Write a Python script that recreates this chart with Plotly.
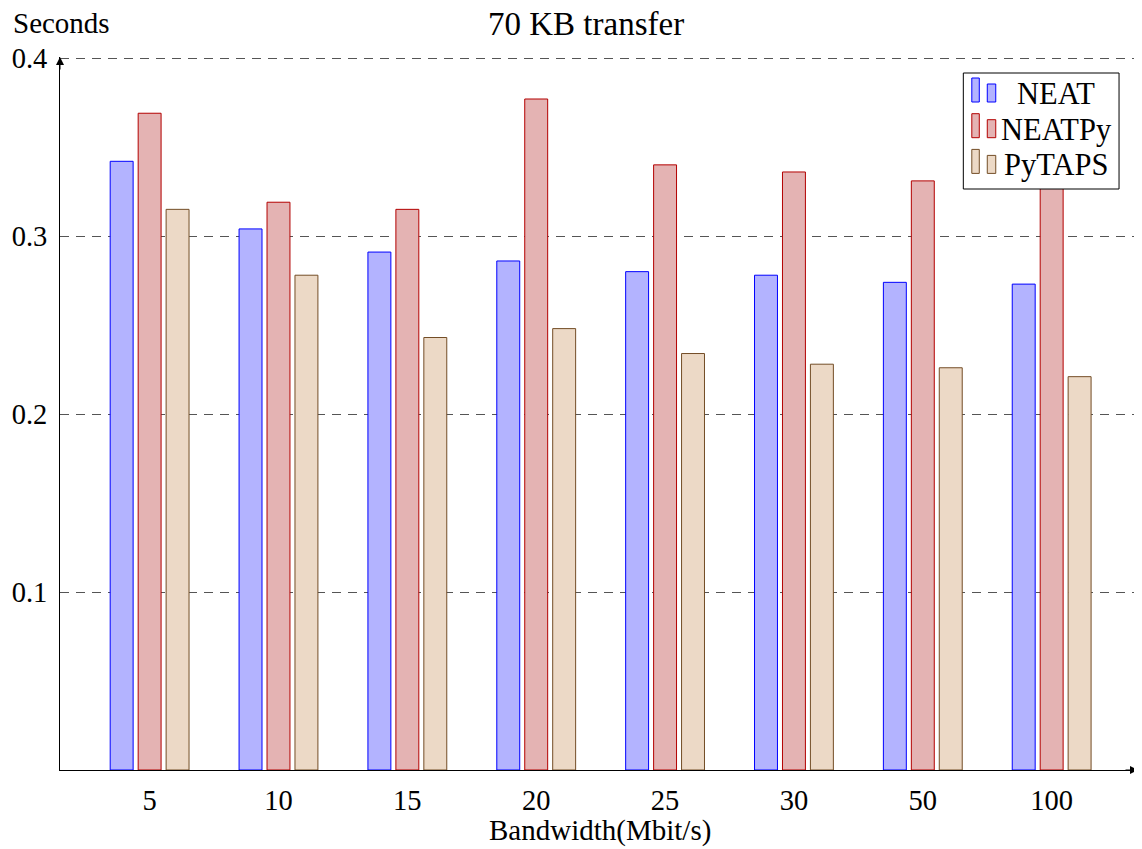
import plotly.graph_objects as go

categories = ["5", "10", "15", "20", "25", "30", "50", "100"]
neat = [0.342, 0.304, 0.291, 0.286, 0.280, 0.278, 0.274, 0.273]
neatpy = [0.369, 0.319, 0.315, 0.377, 0.340, 0.336, 0.331, 0.335]
pytaps = [0.315, 0.278, 0.243, 0.248, 0.234, 0.228, 0.226, 0.221]
y_ticks = [0.1, 0.2, 0.3, 0.4]

series = [
    ("NEAT", neat, "#b3b3ff", "#0000ff"),
    ("NEATPy", neatpy, "#e4b3b3", "#b30000"),
    ("PyTAPS", pytaps, "#ecd9c6", "#734d26"),
]

FONT = "Liberation Serif"
OFF = 8  # page body margin
W, H = 1142 - OFF, 849 - OFF
L, R, T, B = 58 - OFF, 4, 57 - OFF, 79
pw, ph = W - L - R, H - T - B

bw = 0.178
step = 0.2169
xs = list(range(len(categories)))

fig = go.Figure()
for k, (name, vals, fill, line) in enumerate(series):
    fig.add_trace(go.Bar(
        x=xs, y=vals, name=name,
        width=bw, offset=(k - 1) * step - bw / 2,
        marker=dict(color=fill, line=dict(color=line, width=1)),
        showlegend=False,
    ))


def px_x(p):
    """reference-image pixel x -> paper coordinate"""
    return (p - OFF - L) / pw


def px_y(p):
    """reference-image pixel y -> paper coordinate"""
    return (H - B - (p - OFF)) / ph


shapes = []
annotations = []

# custom legend (box, two-bar icons, labels)
lg_x0, lg_x1, lg_y0, lg_y1 = 963, 1119, 73, 189
shapes.append(dict(type="rect", xref="paper", yref="paper", layer="above",
                   x0=px_x(lg_x0), x1=px_x(lg_x1), y0=px_y(lg_y1), y1=px_y(lg_y0),
                   fillcolor="white", line=dict(color="black", width=1)))
row_h = 35.7
for k, (name, vals, fill, line) in enumerate(series):
    base = 102 + k * row_h
    for (bx0, bx1, top) in [(971.5, 979, base - 24), (987, 995.5, base - 18)]:
        shapes.append(dict(type="rect", xref="paper", yref="paper", layer="above",
                           x0=px_x(bx0), x1=px_x(bx1), y0=px_y(base), y1=px_y(top),
                           fillcolor=fill, line=dict(color=line, width=1)))
    annotations.append(dict(text=name, x=px_x(1056), y=px_y(base - 8), xref="paper", yref="paper",
                            xanchor="center", yanchor="middle", showarrow=False,
                            font=dict(family=FONT, size=30.5, color="black")))

annotations += [
    dict(text="Seconds", x=px_x(9), y=px_y(23), xref="paper", yref="paper",
         xanchor="left", yanchor="middle", showarrow=False,
         font=dict(family=FONT, size=29, color="black")),
    dict(text="70 KB transfer", x=px_x(585), y=px_y(24), xref="paper", yref="paper",
         xanchor="center", yanchor="middle", showarrow=False,
         font=dict(family=FONT, size=33, color="black")),
    dict(text="Bandwidth(Mbit/s)", x=px_x(599), y=px_y(831), xref="paper", yref="paper",
         xanchor="center", yanchor="middle", showarrow=False,
         font=dict(family=FONT, size=29, color="black")),
    dict(x=1, y=0, xref="paper", yref="paper", ax=-14, ay=0, text="",
         showarrow=True, arrowhead=2, arrowsize=1.6, arrowwidth=1,
         arrowcolor="black", standoff=0, startstandoff=0),
    dict(x=0, y=1.0, xref="paper", yref="paper", ax=0, ay=14, text="",
         showarrow=True, arrowhead=2, arrowsize=1.6, arrowwidth=1,
         arrowcolor="black", standoff=0, startstandoff=0),
]

fig.update_layout(
    width=W, height=H,
    margin=dict(l=L, r=R, t=T, b=B),
    barmode="overlay",
    plot_bgcolor="white", paper_bgcolor="white",
    font=dict(family=FONT, size=28, color="black"),
    showlegend=False,
    xaxis=dict(
        range=[-0.6955, 7.670], tickmode="array", tickvals=xs, ticktext=categories,
        showgrid=False, zeroline=False, showline=True, linecolor="black", linewidth=1,
        ticks="", ticklabelstandoff=5,
        tickfont=dict(family=FONT, size=28.5, color="black"),
    ),
    yaxis=dict(
        range=[0, 0.4006], tickmode="array", tickvals=y_ticks,
        ticktext=[str(v) for v in y_ticks],
        showgrid=True, gridcolor="#555555", gridwidth=1.3, griddash="9px,7px",
        zeroline=False, showline=True, linecolor="black", linewidth=1,
        ticks="", ticklabelstandoff=6,
        tickfont=dict(family=FONT, size=28.5, color="black"),
    ),
    shapes=shapes,
    annotations=annotations,
)

fig.write_html("out.html")
